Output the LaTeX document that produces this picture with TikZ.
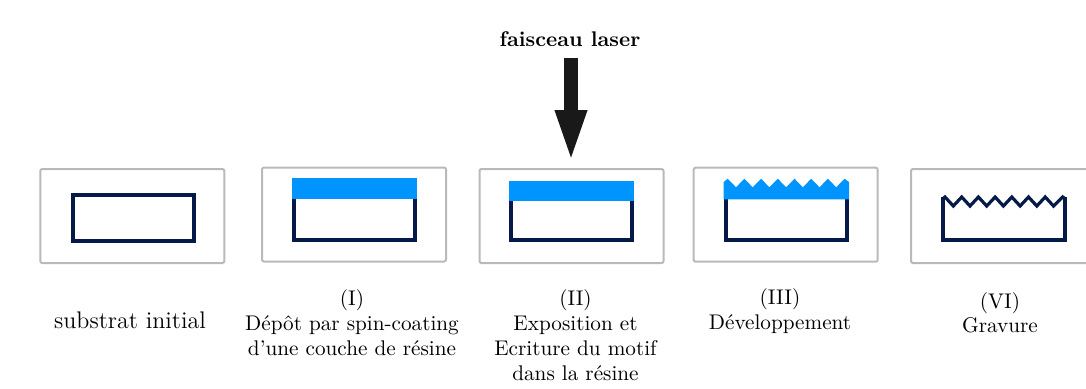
\documentclass[tikz,border=0pt]{standalone}
\usetikzlibrary{arrows.meta}
\definecolor{resine}{HTML}{0094FF}
\definecolor{substrat}{HTML}{061A4A}
\definecolor{cadre}{HTML}{B9B9B9}
\tikzset{
  framebox/.style={draw=cadre, line width=1pt, rounded corners=1pt, minimum width=92pt, minimum height=47pt, inner sep=0pt},
  sublayer/.style={draw=substrat, line width=2pt, line join=miter},
  reslayer/.style={fill=resine},
  caption/.style={align=center, anchor=north, inner sep=0pt, font=\fontsize{10.6}{12.3}\selectfont},
  beam/.style={draw=black!90, line width=7.3pt, -{Triangle[length=27pt, width=14pt]}}
}
\begin{document}
\begin{tikzpicture}[x=0.5pt, y=-0.5pt]
  \clip (0,0) rectangle (1086,388);
  \node[inner sep=0pt, font=\bfseries\fontsize{10.6}{12}\selectfont] (laser) at (570,39) {faisceau laser};
  % the five frames
  \node[framebox] (frameA) at (132.3,216) {};
  \node[framebox] (frameB) at (354,214.5) {};
  \node[framebox] (frameC) at (571.5,216) {};
  \node[framebox] (frameD) at (785.7,214.7) {};
  \node[framebox] (frameE) at (1003,216) {};
  % initial substrate
  \draw[sublayer] (72.7,194.7) rectangle (194,240.7);
  % spin-coating
  \draw[sublayer] (294,190) -- (294,239.7) -- (415,239.7) -- (415,190);
  \fill[reslayer] (292,178.3) rectangle (417,199.3);
  % exposure
  \draw[sublayer] (511,190) -- (511,240.3) -- (632,240.3) -- (632,190);
  \fill[reslayer] (509,180.7) rectangle (634,201.3);
  % development
  \draw[sublayer] (725.7,190) -- (725.7,239.7) -- (847,239.7) -- (847,190);
  \fill[reslayer] (723.7,199.3) -- (723.7,182)
    \foreach \i in {0,...,6} { -- ({727.7+16.7*\i},178.7) -- ({736+16.7*\i},187.3) }
    -- (844.6,178.7) -- (849,182) -- (849,199.3) -- cycle;
  % etching
  \draw[sublayer, line width=1.6pt] (943.3,198.5)
    \foreach \i in {0,...,6} { -- ({945+16.7*\i},197) -- ({953.3+16.7*\i},206) }
    -- (1062.7,197) -- (1065,198.5);
  \draw[sublayer] (943.3,197) -- (943.3,240.3) -- (1064.7,240.3) -- (1064.7,197);
  % laser beam
  \draw[beam, shorten <=5.5pt, shorten >=2pt] ([xshift=.5pt]laser.south) -- ([xshift=.5pt]laser.south |- frameC.north);
  % captions
  \node[caption, font=\fontsize{12}{14}\selectfont] (capA) at (130,311) {substrat initial};
  \node[caption] (capB) at (352,289) {(I)\\[.5pt] Dépôt par spin-coating\\ d'une couche de résine};
  \node[caption] (capC) at (575.5,289) {(II)\\[.5pt] Exposition et\\ Ecriture du motif\\ dans la résine};
  \node[caption] (capD) at (780,288) {(III)\\[.5pt] Développement};
  \node[caption] (capE) at (1000,292) {(VI)\\ Gravure};
\end{tikzpicture}
\end{document}
